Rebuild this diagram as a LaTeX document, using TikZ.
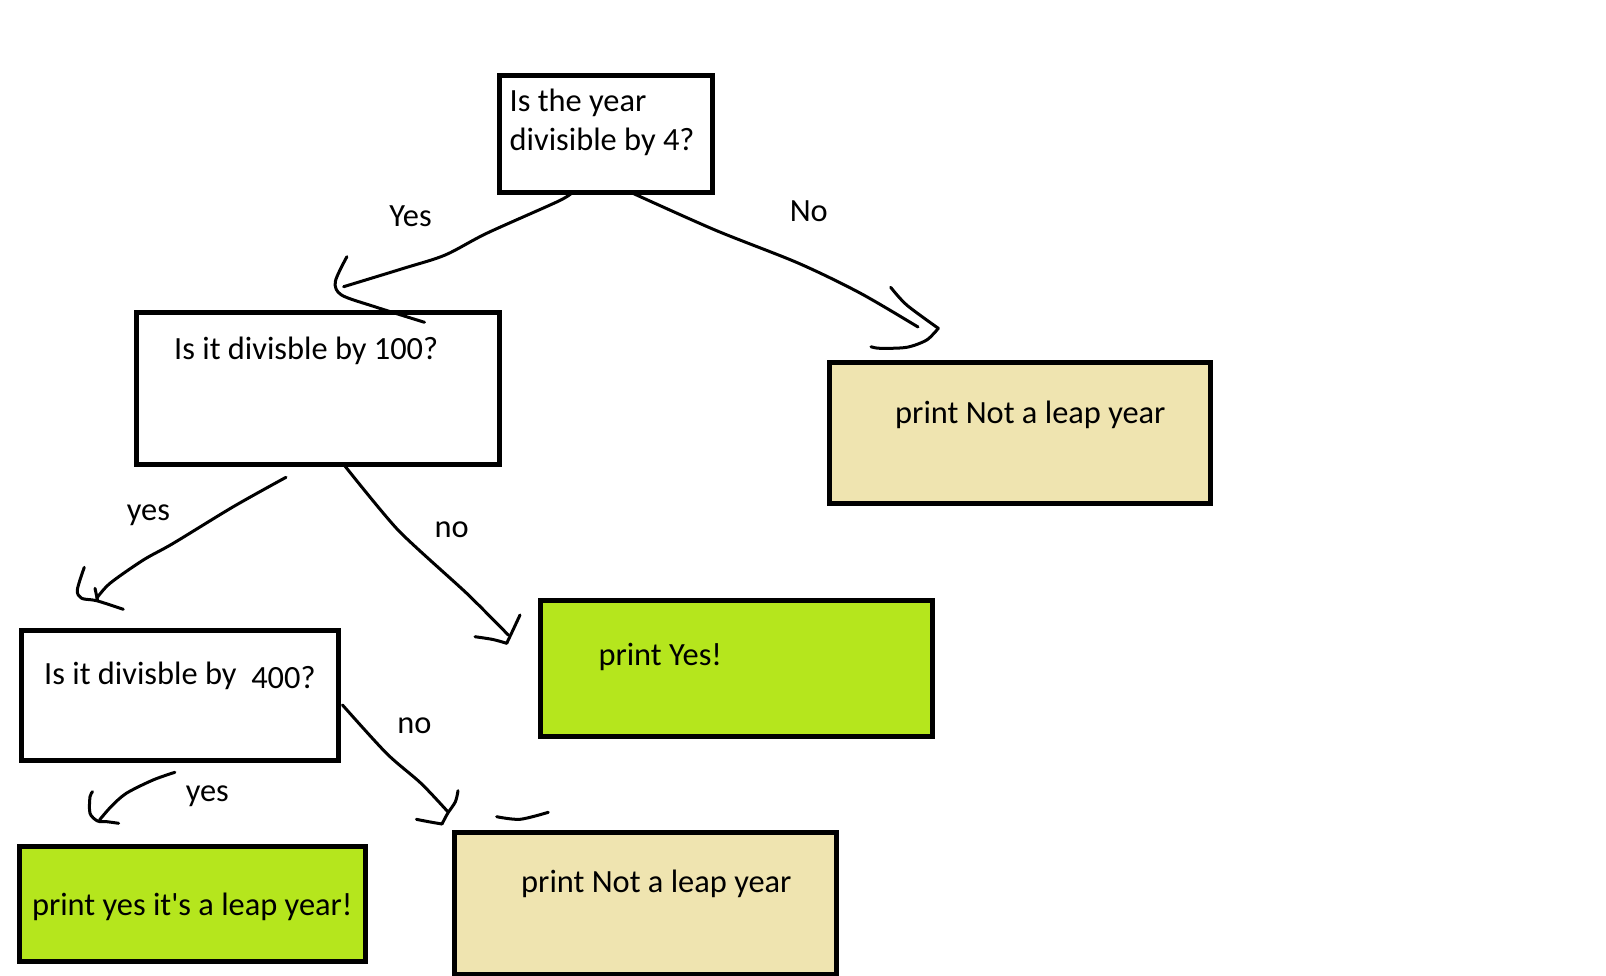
\documentclass[tikz,border=0pt]{standalone}
\usepackage{fontspec}
\newfontfamily\carl{Carlito}
\definecolor{paintlime}{RGB}{181,230,29}
\definecolor{painttan}{RGB}{239,228,176}
\begin{document}
\begin{tikzpicture}[x=1pt,y=-1pt,
  box/.style={draw=black,line width=5pt,rectangle,inner sep=0pt,anchor=north west},
  txt/.style={anchor=base west,inner sep=0pt,font=\carl\fontsize{32.4}{39}\selectfont},
  hand/.style={draw=black,line width=3pt,line cap=round,line join=round}]
\useasboundingbox[fill=white] (0,0) rectangle (1606,975);

% boxes
\node[box,minimum width=213pt,minimum height=117pt] (b1) at (496.5,72.5) {};
\node[box,minimum width=363pt,minimum height=152pt] (b2) at (133.5,309.5) {};
\node[box,fill=painttan,minimum width=381pt,minimum height=141pt] (b3) at (826.5,359.5) {};
\node[box,fill=paintlime,minimum width=392pt,minimum height=136pt] (b4) at (537.5,597.5) {};
\node[box,minimum width=317pt,minimum height=130pt] (b5) at (18.5,627.5) {};
\node[box,fill=paintlime,minimum width=346pt,minimum height=115pt] (b6) at (16.5,843.5) {};
\node[box,fill=painttan,minimum width=382pt,minimum height=142pt] (b7) at (451.5,829.5) {};

% box texts
\node[txt] (t1a) at (509.5,111.7) {Is the year};
\node[txt] (t1b) at (509.5,150.7) {divisible by 4?};
\node[txt] (t2) at (174,359.3) {Is it divisble by 100?};
\node[txt] (t3) at (895,423.3) {print Not a leap year};
\node[txt] (t4) at (598.3,665) {print Yes!};
\node[txt] (t5) at (44,684.3) {Is it divisble by\ \ \raisebox{-4pt}{400?}};
\node[txt] (t6) at (31.8,915.7) {print yes it's a leap year!};
\node[txt] (t7) at (521,892.7) {print Not a leap year};

% connector labels
\node[txt] (l1) at (389.2,226.7) {Yes};
\node[txt] (l2) at (789.6,221.7) {No};
\node[txt] (l3) at (126.7,520) {yes};
\node[txt] (l4) at (434.3,537.3) {no};
\node[txt] (l5) at (397.2,733.3) {no};
\node[txt] (l6) at (185.6,801.7) {yes};

% connector end points
\coordinate (s1) at (571.8,193);
\coordinate (e1) at (343.6,286.7);
\coordinate (s2) at (630,192);
\coordinate (e2) at (918,327);
\coordinate (s3) at (286,477.3);
\coordinate (e3) at (96.7,598.3);
\coordinate (s4) at (343.3,464);
\coordinate (e4) at (508.3,635);
\coordinate (s5) at (342.5,705);
\coordinate (e5) at (447.8,811.7);
\coordinate (s6) at (174.9,772.3);
\coordinate (e6) at (99.5,820);

% hand-drawn connectors
\draw[hand] plot[smooth] coordinates {(s1) (557.3,201.7) (486.7,233.3) (445.2,255) (403.7,268.3) (e1)};
\draw[hand] plot[smooth] coordinates {(346.9,256.7) (335.3,281.7) (341.5,295) (374.7,306.7) (424.5,322.3)};

\draw[hand] plot[smooth] coordinates {(s2) (715,230) (798,263) (860,293) (e2)};
\draw[hand] plot[smooth] coordinates {(890.7,287.3) (906.7,305) (938.3,328.3)};
\draw[hand] plot[smooth] coordinates {(938.3,328.3) (926.7,340) (906.7,347.3) (880,348.3) (871,346.7)};

\draw[hand] plot[smooth] coordinates {(s3) (233.3,506.7) (173.3,543.3) (143.3,560) (110,583.3) (e3)};
\draw[hand] (95,588.3) -- (97.5,600);
\draw[hand] plot[smooth] coordinates {(84.3,567.3) (77.3,590) (81.7,598.3) (96.7,600.7) (123.3,609.3)};

\draw[hand] plot[smooth,tension=0.4] coordinates {(s4) (398,530) (466.7,593.3) (e4)};
\draw[hand] plot[smooth] coordinates {(475,636.7) (493,639.5) (506.7,643.3)};
\draw[hand] plot[smooth] coordinates {(506.7,643.3) (513,630) (520,615)};

\draw[hand] plot[smooth] coordinates {(s5) (386.5,753.3) (421,783.3) (e5)};
\draw[hand] plot[smooth] coordinates {(458,790.7) (455.4,801.7) (447.7,813.3) (442,824)};
\draw[hand] plot[smooth] coordinates {(416.4,819.3) (428.6,821.7) (442,824)};
\draw[hand] plot[smooth] coordinates {(496.7,816.7) (520,819.3) (548.3,812.3)};

\draw[hand] plot[smooth] coordinates {(s6) (153,780) (126.3,793.3) (111,806.7) (e6)};
\draw[hand] plot[smooth] coordinates {(92.6,791.7) (90,796.7) (90,813.3) (97.6,821) (107,821.7) (118.6,823.3)};
\end{tikzpicture}
\end{document}
